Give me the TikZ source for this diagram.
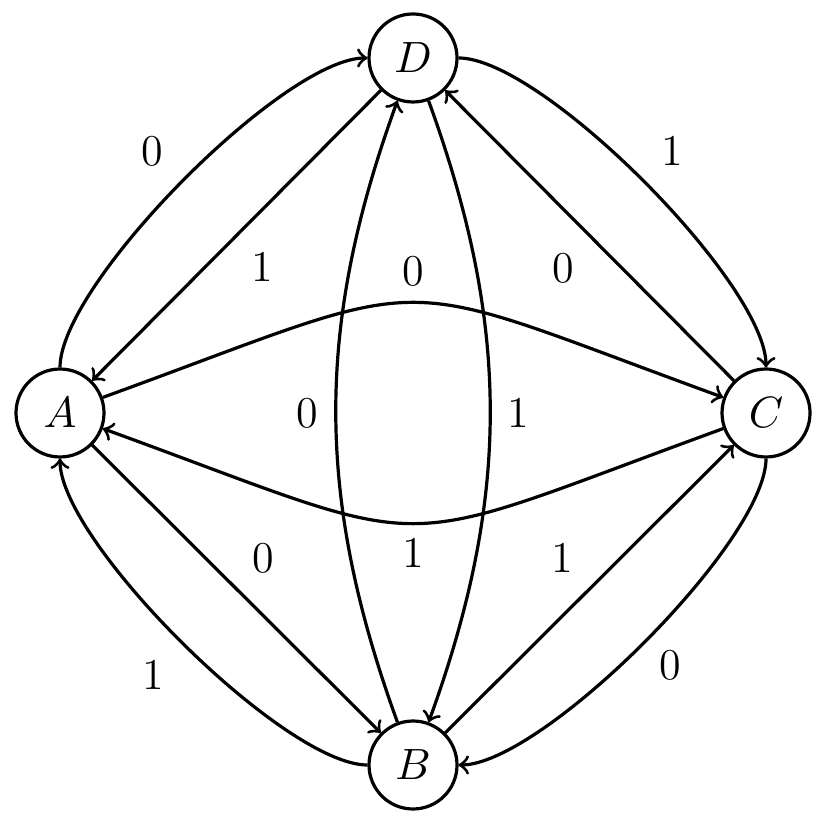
\documentclass[tikz,border=0pt]{standalone}
\begin{document}
\begin{tikzpicture}[x=0.25pt,y=-0.25pt,
  state/.style={circle,draw,line width=0.8pt,minimum size=22pt,inner sep=0pt,font=\fontsize{11}{13}\selectfont},
  edge/.style={->,line width=0.8pt},
  lab/.style={font=\fontsize{11}{13}\selectfont,inner sep=0pt,midway}]
\useasboundingbox (0,0) rectangle (826,830);
\node[state] (A) at (60,413) {$A$};
\node[state] (B) at (413,765) {$B$};
\node[state] (C) at (766,413) {$C$};
\node[state] (D) at (413,58) {$D$};
% outer curves
\draw[edge] (A) to[out=90,in=180,looseness=0.49] node[lab,shift={(-30,-30)}] {0} (D);
\draw[edge] (D) to[out=0,in=90,looseness=0.49] node[lab,shift={(29,-31)}] {1} (C);
\draw[edge] (C) to[out=270,in=0,looseness=0.49] node[lab,shift={(27,22.5)}] {0} (B);
\draw[edge] (B) to[out=180,in=270,looseness=0.49] node[lab,shift={(-29,31.5)}] {1} (A);
% straight diagonals
\draw[edge] (D) -- node[lab,shift={(25.5,31.5)}] {1} (A);
\draw[edge] (C) -- node[lab,shift={(-26.5,32.5)}] {0} (D);
\draw[edge] (A) -- node[lab,shift={(26.5,-31)}] {0} (B);
\draw[edge] (B) -- node[lab,shift={(-27.5,-31)}] {1} (C);
% horizontal curves
\draw[edge] (A) to[out=20,in=160,looseness=1.53] node[lab,shift={(0,-31)}] {0} (C);
\draw[edge] (C) to[out=200,in=340,looseness=1.53] node[lab,shift={(0,29)}] {1} (A);
% vertical curves
\draw[edge] (B) to[out=110,in=250,looseness=0.99] node[lab,shift={(-29,1.5)}] {0} (D);
\draw[edge] (D) to[out=290,in=70,looseness=0.99] node[lab,shift={(28,1.5)}] {1} (B);
\end{tikzpicture}
\end{document}
